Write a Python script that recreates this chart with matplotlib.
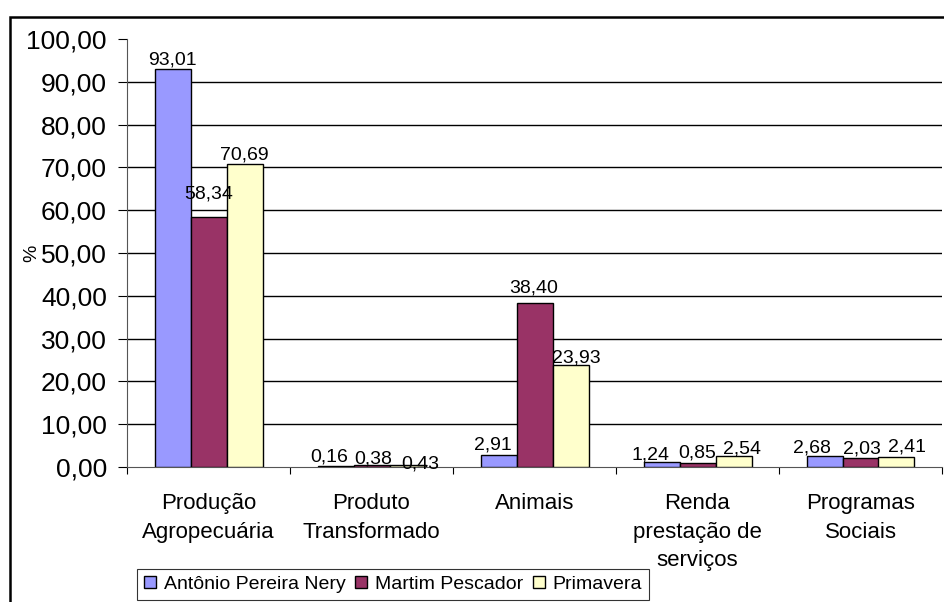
import numpy as np
import matplotlib.pyplot as plt
from matplotlib.patches import Rectangle

plt.rcParams['font.family'] = ['Liberation Sans', 'DejaVu Sans']

categories = ['Produção\nAgropecuária', 'Produto\nTransformado', 'Animais',
              'Renda\nprestação de\nserviços', 'Programas\nSociais']
series_names = ['Antônio Pereira Nery', 'Martim Pescador', 'Primavera']
antonio = [93.01, 0.16, 2.91, 1.24, 2.68]
martim = [58.34, 0.38, 38.40, 0.85, 2.03]
primavera = [70.69, 0.43, 23.93, 2.54, 2.41]
colors = ['#9999FF', '#993366', '#FFFFCC']

# label nudges in pixels (dx, gap above bar top), per series / category
nudges = [
    [(0, 4), (-6, 5), (-6, 5), (-11, 2), (-13, 3)],
    [(0, 19), (2, 2), (-1, 10), (0, 6), (1, 5)],
    [(0, 5), (13, -3), (6, 2), (8, 3), (11, 5)],
]

fig = plt.figure(figsize=(9.44, 6.02), dpi=100)
W, H = 944, 602
ax = fig.add_axes([127 / W, 1 - 467 / H, 815 / W, 428 / H])

# outer chart border (only top and left edges fall inside the image)
top = 1 - 17 / H
fig.patches.append(Rectangle((9.7 / W, -0.2), 1.2, top + 0.2, transform=fig.transFigure,
                             fill=False, edgecolor='black', linewidth=1.8, zorder=0))

ind = np.arange(len(categories))
width = 36 / 163
for i, vals in enumerate([antonio, martim, primavera]):
    pos = ind + (i - 1) * width
    ax.bar(pos, vals, width, color=colors[i], edgecolor='black', linewidth=1.0,
           label=series_names[i], zorder=3)
    for j, v in enumerate(vals):
        dx, dy = nudges[i][j]
        ax.annotate(('%.2f' % v).replace('.', ','), (pos[j], v), xytext=(dx, dy),
                    textcoords='offset pixels', ha='center', va='baseline',
                    fontsize=14, zorder=5)

ax.set_xlim(-0.5, len(categories) - 0.5)
ax.set_ylim(0, 100)

# gridlines (none at the top value)
for g in range(10, 100, 10):
    ax.axhline(g, color='black', linewidth=1.0, zorder=1)

yt = np.arange(0, 101, 10)
ax.set_yticks(yt)
ax.yaxis.set_major_formatter(plt.FuncFormatter(lambda v, p: ('%.2f' % v).replace('.', ',')))
ax.tick_params(axis='y', length=6.5, width=0.8, labelsize=19, pad=8)

ax.set_xticks(ind)
ax.set_xticklabels(categories, fontsize=16, linespacing=1.45)
ax.set_xticks(np.arange(-0.5, len(categories)), minor=True)
ax.tick_params(axis='x', which='major', length=0, pad=19)
ax.tick_params(axis='x', which='minor', length=5, width=0.8)

for s in ['top', 'right']:
    ax.spines[s].set_visible(False)
for s in ['left', 'bottom']:
    ax.spines[s].set_linewidth(0.8)
    ax.spines[s].set_color('#555555')

ax.set_ylabel('%', fontsize=14)
ax.yaxis.set_label_coords(-0.107, 0.5)

leg = ax.legend(loc='upper left', bbox_to_anchor=(137 / W, 1 - 569 / H),
                bbox_transform=fig.transFigure, ncol=3, fontsize=14, frameon=True,
                fancybox=False, handlelength=0.62, handleheight=0.62, handletextpad=0.4,
                columnspacing=0.5, borderpad=0.35, borderaxespad=0)
leg.get_frame().set_edgecolor('black')
leg.get_frame().set_linewidth(0.8)

fig.savefig('out.png', dpi=100)
